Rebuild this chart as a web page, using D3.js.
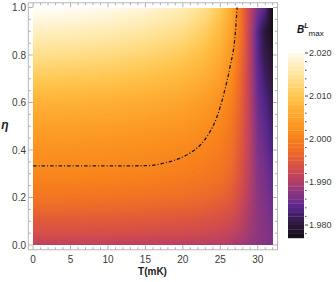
<!DOCTYPE html>
<html>
<head>
<meta charset="utf-8">
<script src="https://cdn.jsdelivr.net/npm/d3@7"></script>
<style>
  body { margin: 0; background: #fff; }
  svg { display: block; font-family: 'Liberation Sans', Arial, sans-serif; }
</style>
</head>
<body>
<svg width="336" height="282"></svg>
<script>
// grid of B^L_max values
var tGrid = [0, 5, 10, 15, 20, 23, 25, 26.5, 28, 29, 30, 31, 32];
var etaGrid = [0, 0.05, 0.1, 0.2, 0.3, 0.4, 0.5, 0.6, 0.7, 0.8, 0.9, 1.0];

var bEta000 = [1.9910, 1.9910, 1.9910, 1.9909, 1.9907, 1.9905, 1.9902, 1.9897, 1.9888, 1.9880, 1.9875, 1.9872, 1.9866];
var bEta005 = [1.9935, 1.9935, 1.9934, 1.9932, 1.9929, 1.9925, 1.9921, 1.9914, 1.9900, 1.9887, 1.9877, 1.9872, 1.9864];
var bEta010 = [1.9950, 1.9950, 1.9949, 1.9947, 1.9943, 1.9939, 1.9934, 1.9925, 1.9908, 1.9890, 1.9877, 1.9870, 1.9860];
var bEta020 = [1.9985, 1.9985, 1.9983, 1.9980, 1.9975, 1.9969, 1.9962, 1.9950, 1.9922, 1.9898, 1.9875, 1.9866, 1.9853];
var bEta030 = [2.0010, 2.0009, 2.0007, 2.0004, 1.9998, 1.9991, 1.9983, 1.9968, 1.9933, 1.9903, 1.9872, 1.9860, 1.9845];
var bEta040 = [2.0025, 2.0024, 2.0022, 2.0018, 2.0012, 2.0004, 1.9995, 1.9978, 1.9940, 1.9905, 1.9867, 1.9853, 1.9835];
var bEta050 = [2.0045, 2.0044, 2.0042, 2.0037, 2.0030, 2.0020, 2.0008, 1.9988, 1.9945, 1.9905, 1.9862, 1.9845, 1.9825];
var bEta060 = [2.0070, 2.0069, 2.0066, 2.0060, 2.0050, 2.0037, 2.0022, 2.0000, 1.9950, 1.9905, 1.9855, 1.9835, 1.9815];
var bEta070 = [2.0105, 2.0103, 2.0099, 2.0091, 2.0078, 2.0061, 2.0042, 2.0015, 1.9955, 1.9905, 1.9850, 1.9823, 1.9803];
var bEta080 = [2.0140, 2.0137, 2.0132, 2.0122, 2.0106, 2.0085, 2.0062, 2.0030, 1.9962, 1.9905, 1.9843, 1.9810, 1.9790];
var bEta090 = [2.0175, 2.0172, 2.0166, 2.0155, 2.0137, 2.0112, 2.0082, 2.0045, 1.9968, 1.9905, 1.9840, 1.9800, 1.9775];
var bEta100 = [2.0210, 2.0207, 2.0200, 2.0188, 2.0168, 2.0140, 2.0105, 2.0060, 1.9970, 1.9910, 1.9865, 1.9840, 1.9770];

// dash-dot boundary curve
var curveT = [0, 5, 10, 15, 16.5, 17.5, 18.5, 19.6, 21, 22.3, 23.6, 24.5, 25.5, 26.3, 27.0, 27.25];
var curveEta = [0.333, 0.333, 0.333, 0.334, 0.338, 0.345, 0.353, 0.365, 0.388, 0.42, 0.476, 0.535, 0.64, 0.75, 0.89, 1.0];

// ticks
var xTicks = [0, 5, 10, 15, 20, 25, 30];
var yTicks = [0, 0.2, 0.4, 0.6, 0.8, 1.0];
var legendTicks = [1.98, 1.99, 2.00, 2.01, 2.02];

// SunsetColors-like palette
var colorStops = [1.977, 1.9795, 1.982, 1.984, 1.986, 1.988, 1.990, 1.991, 1.993, 1.995, 1.997, 2.000, 2.0025, 2.005, 2.008, 2.010, 2.014, 2.017, 2.0205];
var colorHex = ['#120b12', '#281633', '#3c1d5a', '#56268c', '#74308a', '#92387c', '#b03e68', '#bd4260', '#d24c4c', '#e05a3a', '#ec6a2a', '#f7801c', '#fb921f', '#fda42c', '#ffb83e', '#ffc650', '#ffdf8c', '#ffedba', '#fffcf4'];

var bRows = [bEta000, bEta005, bEta010, bEta020, bEta030, bEta040, bEta050, bEta060, bEta070, bEta080, bEta090, bEta100];

var svg = d3.select('svg');
var color = d3.scaleLinear().domain(colorStops).range(colorHex).clamp(true);

var x = d3.scaleLinear().domain([0, 32]).range([33.1, 272.7]);
var y = d3.scaleLinear().domain([0, 1]).range([245, 7.5]);
var pad = 0.02;

// density image
var px0 = Math.round(x(0)), px1 = Math.round(x(32)), py0 = Math.round(y(1)), py1 = Math.round(y(0));
var w = px1 - px0, h = py1 - py0;
var canvas = document.createElement('canvas');
canvas.width = w;
canvas.height = h;
var ctx = canvas.getContext('2d');
var img = ctx.createImageData(w, h);
var tIdx = d3.scaleLinear().domain(tGrid).range(d3.range(tGrid.length)).clamp(true);
var eIdx = d3.scaleLinear().domain(etaGrid).range(d3.range(etaGrid.length)).clamp(true);

for (var j = 0; j < h; j++) {
  var fe = eIdx(y.invert(py0 + j + 0.5));
  var e0 = Math.min(Math.floor(fe), etaGrid.length - 2), de = fe - e0;
  for (var i = 0; i < w; i++) {
    var ft = tIdx(x.invert(px0 + i + 0.5));
    var t0 = Math.min(Math.floor(ft), tGrid.length - 2), dt = ft - t0;
    var lo = bRows[e0][t0] * (1 - dt) + bRows[e0][t0 + 1] * dt;
    var hi = bRows[e0 + 1][t0] * (1 - dt) + bRows[e0 + 1][t0 + 1] * dt;
    var c = d3.rgb(color(lo * (1 - de) + hi * de));
    var k = (j * w + i) * 4;
    img.data[k] = c.r;
    img.data[k + 1] = c.g;
    img.data[k + 2] = c.b;
    img.data[k + 3] = 255;
  }
}
ctx.putImageData(img, 0, 0);

svg.append('image')
  .attr('x', px0)
  .attr('y', py0)
  .attr('width', w)
  .attr('height', h)
  .attr('preserveAspectRatio', 'none')
  .attr('href', canvas.toDataURL());

// boundary curve
var line = d3.line()
  .x(function(d) { return x(d[0]); })
  .y(function(d) { return y(d[1]); })
  .curve(d3.curveMonotoneX);

svg.append('path')
  .datum(curveT.map(function(t, i) { return [t, curveEta[i]]; }))
  .attr('fill', 'none')
  .attr('stroke', '#1a1a1a')
  .attr('stroke-width', 1.3)
  .attr('stroke-dasharray', '3.5,2,1,2')
  .attr('d', line);

// frame
var fx0 = x(-32 * pad), fx1 = x(32 * (1 + pad)), fy0 = y(1 + pad), fy1 = y(-pad);
svg.append('rect')
  .attr('x', fx0)
  .attr('y', fy0)
  .attr('width', fx1 - fx0)
  .attr('height', fy1 - fy0)
  .attr('fill', 'none')
  .attr('stroke', '#b8b8b8')
  .attr('stroke-width', 1);

var tickColor = '#b0b0b0';
var xMinor = d3.range(0, 33, 1);
var yMinor = d3.range(0, 1.001, 0.05);

svg.append('g').selectAll('line')
  .data(xMinor)
  .enter().append('line')
    .attr('x1', function(d) { return x(d); })
    .attr('x2', function(d) { return x(d); })
    .attr('y1', fy1)
    .attr('y2', function(d) { return fy1 - (d % 5 === 0 ? 4.5 : 2.5); })
    .attr('stroke', tickColor);

svg.append('g').selectAll('line')
  .data(xMinor)
  .enter().append('line')
    .attr('x1', function(d) { return x(d); })
    .attr('x2', function(d) { return x(d); })
    .attr('y1', fy0)
    .attr('y2', function(d) { return fy0 + (d % 5 === 0 ? 4.5 : 2.5); })
    .attr('stroke', tickColor);

svg.append('g').selectAll('line')
  .data(yMinor)
  .enter().append('line')
    .attr('y1', function(d) { return y(d); })
    .attr('y2', function(d) { return y(d); })
    .attr('x1', fx0)
    .attr('x2', function(d) { return fx0 + (Math.round(d * 20) % 4 === 0 ? 4.5 : 2.5); })
    .attr('stroke', tickColor);

svg.append('g').selectAll('line')
  .data(yMinor)
  .enter().append('line')
    .attr('y1', function(d) { return y(d); })
    .attr('y2', function(d) { return y(d); })
    .attr('x1', fx1)
    .attr('x2', function(d) { return fx1 - (Math.round(d * 20) % 4 === 0 ? 4.5 : 2.5); })
    .attr('stroke', tickColor);

// tick labels
svg.append('g').selectAll('text')
  .data(xTicks)
  .enter().append('text')
    .attr('x', function(d) { return x(d); })
    .attr('y', 263)
    .attr('text-anchor', 'middle')
    .attr('font-size', 10)
    .attr('fill', '#3a3a3a')
    .text(function(d) { return d; });

svg.append('g').selectAll('text')
  .data(yTicks)
  .enter().append('text')
    .attr('x', 26)
    .attr('y', function(d) { return y(d) + 3.6; })
    .attr('text-anchor', 'end')
    .attr('font-size', 10)
    .attr('fill', '#3a3a3a')
    .text(function(d) { return d.toFixed(1); });

// axis labels
svg.append('text')
  .attr('x', 152.5)
  .attr('y', 275)
  .attr('text-anchor', 'middle')
  .attr('font-size', 10)
  .attr('font-weight', 'bold')
  .attr('fill', '#222')
  .text('T(mK)');

svg.append('text')
  .attr('x', 5)
  .attr('y', 129)
  .attr('text-anchor', 'middle')
  .attr('font-size', 12)
  .attr('font-weight', 'bold')
  .attr('font-style', 'italic')
  .attr('fill', '#222')
  .text('η');

// colour bar legend
var ly = d3.scaleLinear().domain([1.98, 2.02]).range([225, 53]);
var barX = 288, barW = 16;
var bands = d3.range(1.977, 2.0200, 0.001);

svg.append('g').selectAll('rect')
  .data(bands)
  .enter().append('rect')
    .attr('x', barX)
    .attr('y', function(d) { return ly(d + 0.001); })
    .attr('width', barW)
    .attr('height', function(d) { return ly(d) - ly(d + 0.001) + 0.3; })
    .attr('fill', function(d) { return color(d + 0.0005); });

var lMinor = d3.range(1.978, 2.0201, 0.002);
svg.append('g').selectAll('line')
  .data(lMinor)
  .enter().append('line')
    .attr('x1', barX + barW + 1)
    .attr('x2', function(d) { return barX + barW + (Math.round(d * 1000) % 10 === 0 ? 4 : 2.5); })
    .attr('y1', function(d) { return ly(d); })
    .attr('y2', function(d) { return ly(d); })
    .attr('stroke', '#444');

svg.append('g').selectAll('text')
  .data(legendTicks)
  .enter().append('text')
    .attr('x', barX + barW + 5)
    .attr('y', function(d) { return ly(d) + 3.3; })
    .attr('font-size', 9)
    .attr('fill', '#3a3a3a')
    .text(function(d) { return d.toFixed(3); });

var title = svg.append('text')
  .attr('x', 297)
  .attr('y', 33)
  .attr('fill', '#111');
title.append('tspan')
  .attr('font-size', 10)
  .attr('font-weight', 'bold')
  .attr('font-style', 'italic')
  .text('B');
title.append('tspan')
  .attr('font-size', 7)
  .attr('font-weight', 'bold')
  .attr('font-style', 'italic')
  .attr('dy', -5)
  .text('L');
title.append('tspan')
  .attr('font-size', 8)
  .attr('dy', 8)
  .text('max');
</script>
</body>
</html>
